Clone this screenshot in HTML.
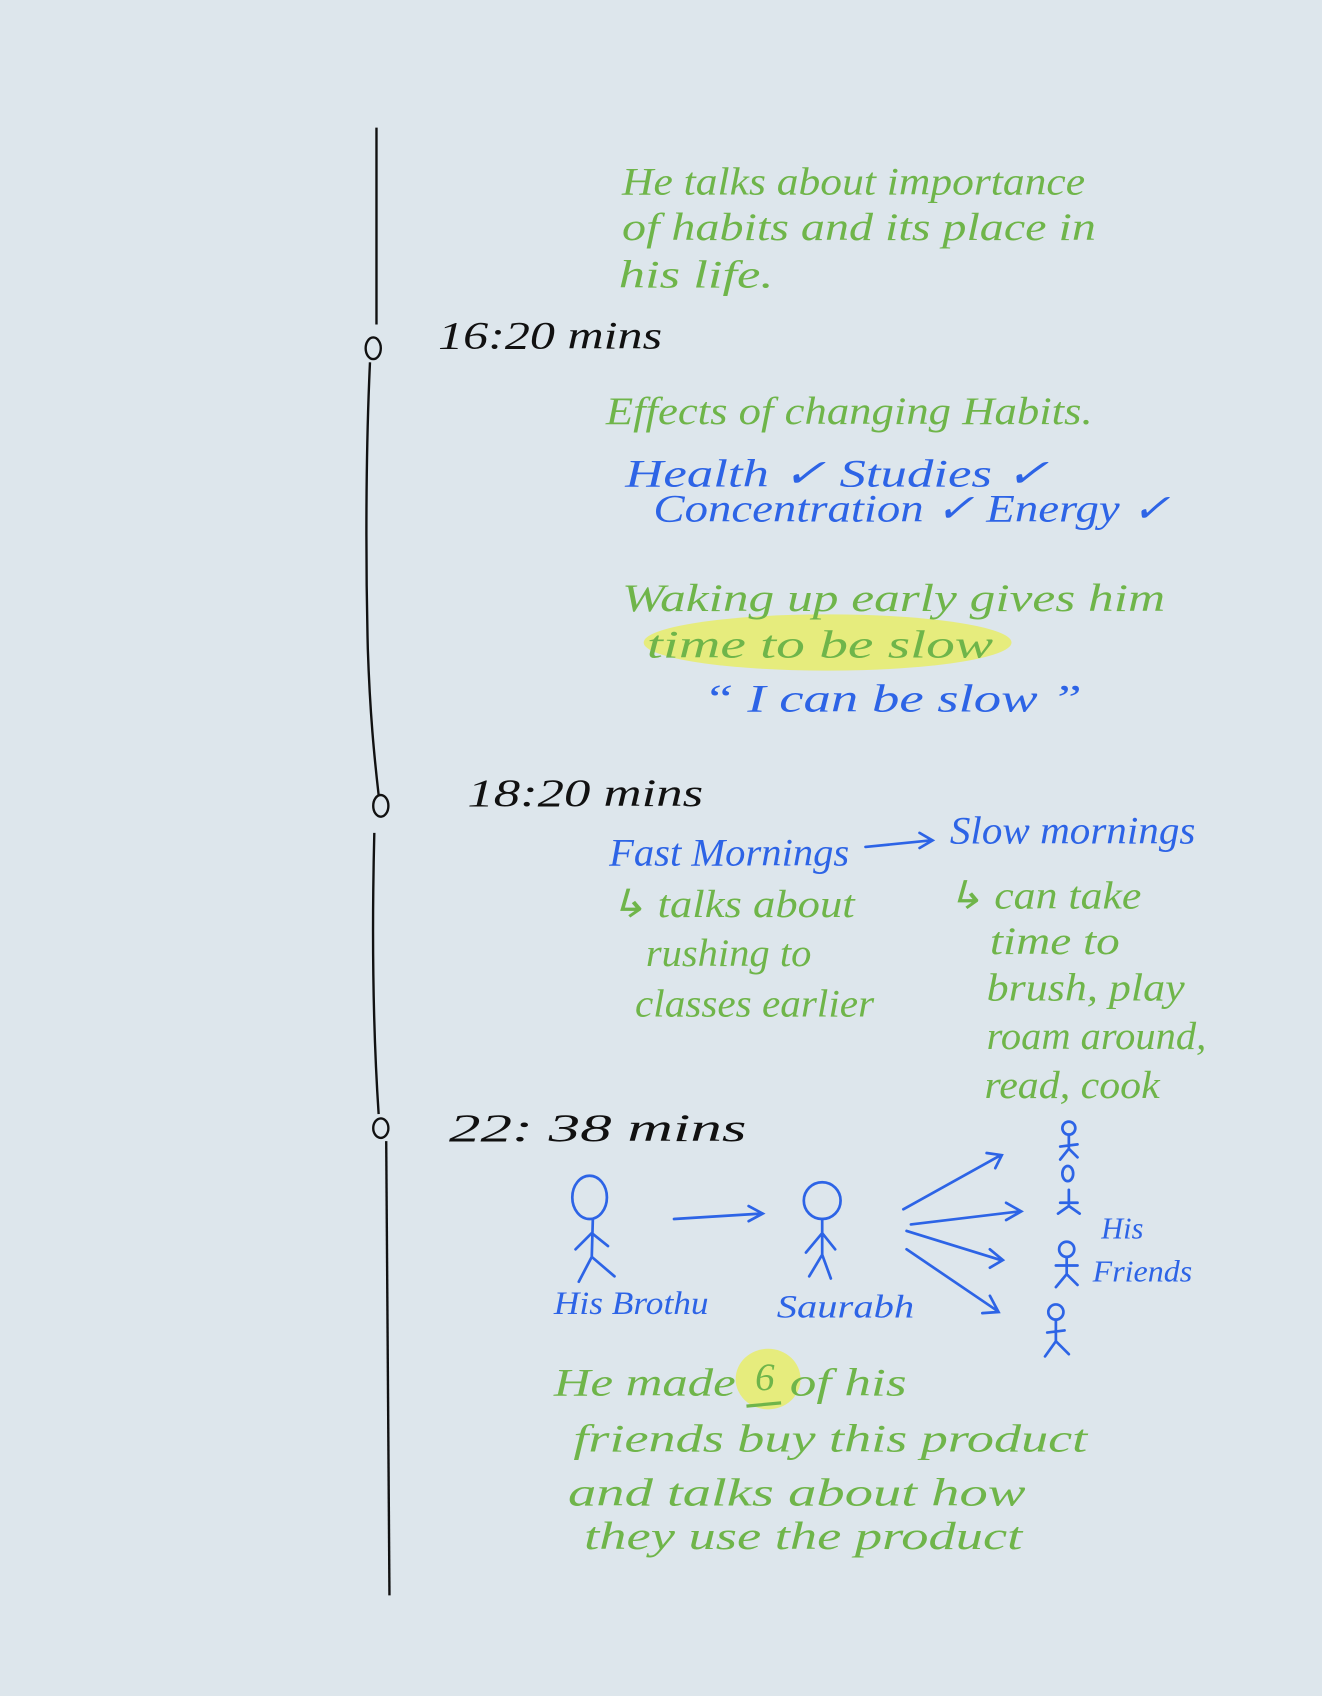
<!DOCTYPE html>
<html><head><meta charset="utf-8"><style>
html,body{margin:0;padding:0;background:#dde6ec;}
svg{display:block}
text{font-family:"Liberation Serif",serif;font-style:italic;}
.g{fill:#6fb54a}.b{fill:#2d64e6}.k{fill:#111}
</style></head><body>
<svg width="1322" height="1696" viewBox="0 0 1222 1568" preserveAspectRatio="none">
<rect width="1222" height="1568" fill="#dde6ec"/>
<g stroke="#111" stroke-width="2.2" fill="none">
<path d="M348 118 L348 300"/>
<ellipse cx="345" cy="322" rx="7" ry="10"/>
<path d="M342 335 C338 420 338 520 340 600 C342 660 346 700 350 735"/>
<ellipse cx="352" cy="745" rx="7" ry="10"/>
<path d="M346 770 C344 850 344 940 350 1030"/>
<ellipse cx="352" cy="1043" rx="7" ry="9"/>
<path d="M357 1055 L360 1475"/>
</g>
<ellipse cx="765" cy="594" rx="170" ry="26" fill="#e7ec6a" opacity="0.85"/>
<ellipse cx="710" cy="1275" rx="30" ry="28" fill="#e7ec6a" opacity="0.85"/>
<g font-size="36" lengthAdjust="spacingAndGlyphs">
<text x="575" y="180" class="g" textLength="428" lengthAdjust="spacingAndGlyphs">He talks about importance</text>
<text x="575" y="222" class="g" textLength="438" lengthAdjust="spacingAndGlyphs">of habits and its place in</text>
<text x="572" y="266" class="g" textLength="143" lengthAdjust="spacingAndGlyphs">his life.</text>
<text x="405" y="322" class="k" textLength="207" lengthAdjust="spacingAndGlyphs">16:20 mins</text>
<text x="560" y="392" class="g" textLength="450" lengthAdjust="spacingAndGlyphs">Effects of changing Habits.</text>
<text x="578" y="450" class="b" textLength="392" lengthAdjust="spacingAndGlyphs">Health ✓  Studies ✓</text>
<text x="604" y="482" class="b" textLength="478" lengthAdjust="spacingAndGlyphs">Concentration ✓  Energy ✓</text>
<text x="575" y="565" class="g" textLength="502" lengthAdjust="spacingAndGlyphs">Waking up early gives him</text>
<text x="598" y="608" class="g" textLength="320" lengthAdjust="spacingAndGlyphs">time to be slow</text>
<text x="650" y="658" class="b" textLength="350" lengthAdjust="spacingAndGlyphs">“ I can be slow ”</text>
<text x="432" y="745" class="k" textLength="218" lengthAdjust="spacingAndGlyphs">18:20 mins</text>
<text x="563" y="800" class="b" textLength="222" lengthAdjust="spacingAndGlyphs">Fast Mornings</text>
<text x="878" y="780" class="b" textLength="227" lengthAdjust="spacingAndGlyphs">Slow mornings</text>
<text x="563" y="848" class="g" textLength="227" lengthAdjust="spacingAndGlyphs">↳ talks about</text>
<text x="597" y="893" class="g" textLength="153" lengthAdjust="spacingAndGlyphs">rushing to</text>
<text x="587" y="940" class="g" textLength="221" lengthAdjust="spacingAndGlyphs">classes earlier</text>
<text x="875" y="840" class="g" textLength="180" lengthAdjust="spacingAndGlyphs">↳ can take</text>
<text x="915" y="882" class="g" textLength="120" lengthAdjust="spacingAndGlyphs">time to</text>
<text x="912" y="925" class="g" textLength="183" lengthAdjust="spacingAndGlyphs">brush, play</text>
<text x="912" y="970" class="g" textLength="203" lengthAdjust="spacingAndGlyphs">roam around,</text>
<text x="910" y="1015" class="g" textLength="162" lengthAdjust="spacingAndGlyphs">read, cook</text>
<text x="415" y="1055" class="k" textLength="275" lengthAdjust="spacingAndGlyphs">22: 38 mins</text>
<text x="512" y="1215" font-size="30" class="b" textLength="143" lengthAdjust="spacingAndGlyphs">His Brothu</text>
<text x="718" y="1218" font-size="30" class="b" textLength="127" lengthAdjust="spacingAndGlyphs">Saurabh</text>
<text x="1018" y="1145" font-size="28" class="b">His</text>
<text x="1010" y="1185" font-size="28" class="b" textLength="92" lengthAdjust="spacingAndGlyphs">Friends</text>
<text x="512" y="1290" class="g" textLength="168" lengthAdjust="spacingAndGlyphs">He made</text>
<text x="698" y="1285" class="g">6</text>
<text x="730" y="1290" class="g" textLength="108" lengthAdjust="spacingAndGlyphs">of his</text>
<text x="530" y="1342" class="g" textLength="475" lengthAdjust="spacingAndGlyphs">friends buy this product</text>
<text x="525" y="1392" class="g" textLength="423" lengthAdjust="spacingAndGlyphs">and talks about how</text>
<text x="540" y="1432" class="g" textLength="405" lengthAdjust="spacingAndGlyphs">they use the product</text>
</g>
<g stroke="#2d64e6" stroke-width="2.5" fill="none" stroke-linecap="round">
<path d="M800 783 L860 777 M850 770 L862 777 L850 784"/>
<path d="M623 1127 L703 1122 M692 1115 L705 1122 L692 1129"/>
<path d="M835 1118 L925 1068 M912 1066 L926 1068 L920 1080"/>
<path d="M842 1132 L942 1120 M930 1112 L944 1120 L930 1128"/>
<path d="M838 1138 L925 1165 M915 1155 L927 1165 L915 1172"/>
<path d="M838 1155 L922 1212 M915 1198 L923 1213 L908 1214"/>
<ellipse cx="545" cy="1107" rx="16" ry="20"/>
<path d="M548 1127 L547 1162 M547 1140 L532 1155 M547 1140 L562 1152 M547 1162 L535 1185 M547 1162 L568 1180"/>
<circle cx="760" cy="1110" r="17"/>
<path d="M760 1127 L760 1160 M760 1140 L745 1158 M760 1140 L772 1155 M760 1160 L748 1180 M760 1160 L768 1182"/>
<circle cx="988" cy="1043" r="6"/><path d="M988 1049 L988 1062 M980 1060 L996 1058 M988 1062 L980 1072 M988 1062 L996 1070"/>
<ellipse cx="987" cy="1085" rx="5" ry="7"/><path d="M988 1100 L988 1115 M980 1112 L996 1112 M988 1115 L978 1122 M988 1115 L998 1122"/>
<circle cx="986" cy="1155" r="7"/><path d="M986 1162 L986 1178 M976 1170 L996 1170 M986 1178 L976 1190 M986 1178 L996 1188"/>
<circle cx="976" cy="1213" r="7"/><path d="M976 1220 L976 1240 M968 1232 L984 1230 M976 1240 L966 1254 M976 1240 L988 1252"/>
</g>
<path d="M690 1300 L722 1297" stroke="#6fb54a" stroke-width="3"/>
</svg>
</body></html>
